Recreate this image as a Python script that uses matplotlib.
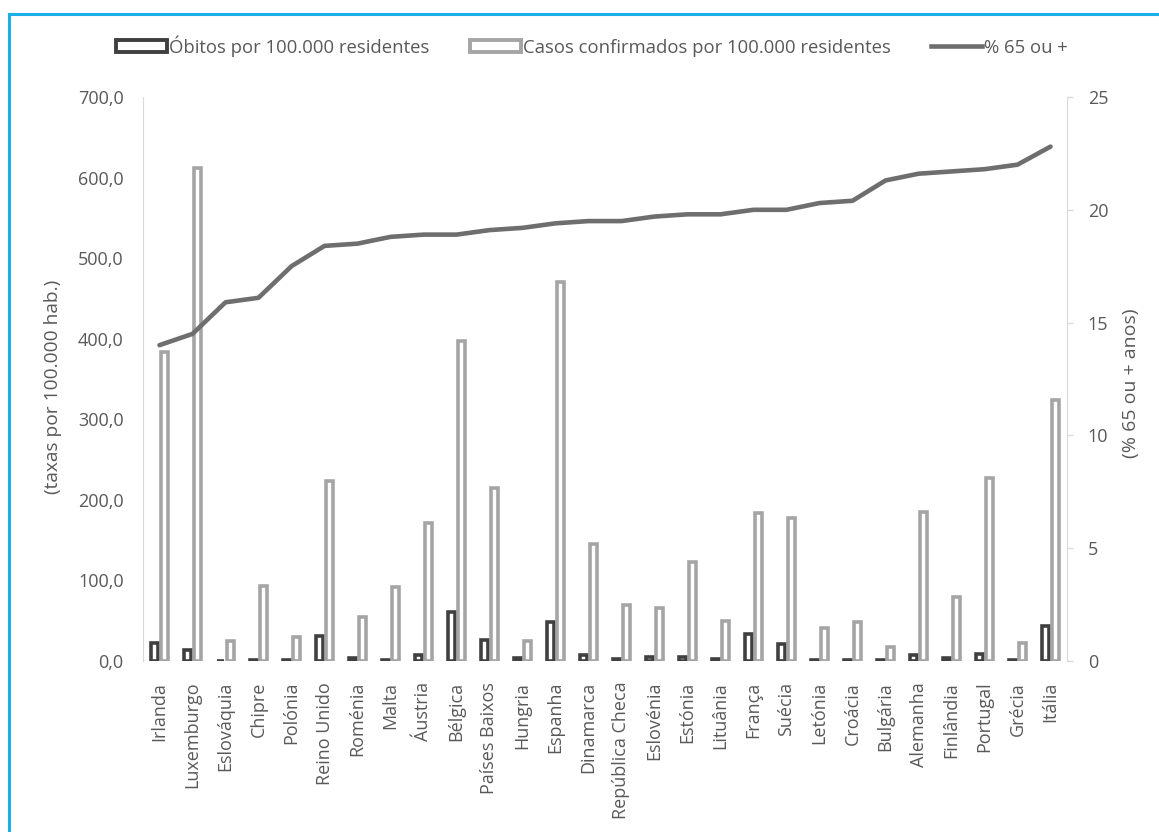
import matplotlib
matplotlib.use("Agg")
import matplotlib.pyplot as plt
from matplotlib.patches import Patch
from matplotlib.lines import Line2D
import numpy as np

plt.rcParams['font.family'] = ['Open Sans', 'DejaVu Sans']

paises = ["Irlanda", "Luxemburgo", "Eslováquia", "Chipre", "Polónia", "Reino Unido",
          "Roménia", "Malta", "Áustria", "Bélgica", "Países Baixos", "Hungria",
          "Espanha", "Dinamarca", "República Checa", "Eslovénia", "Estónia",
          "Lituânia", "França", "Suécia", "Letónia", "Croácia", "Bulgária",
          "Alemanha", "Finlândia", "Portugal", "Grécia", "Itália"]

obitos = [22, 14, 0.5, 1.5, 1, 31, 4, 1, 7, 61, 25.5, 4, 48, 7,
          3, 5, 5, 2, 34, 21, 1, 1, 1, 7, 4, 9, 1, 44]

casos = [383, 612, 25, 93, 30, 223, 55, 92, 171, 397, 215, 25, 471, 145,
         69, 66, 123, 50, 184, 178, 41, 48, 17, 185, 79, 227, 22, 324]

pct65 = [14.0, 14.5, 15.9, 16.1, 17.5, 18.4, 18.5, 18.8, 18.9, 18.9, 19.1, 19.2,
         19.4, 19.5, 19.5, 19.7, 19.8, 19.8, 20.0, 20.0, 20.3, 20.4, 21.3, 21.6,
         21.7, 21.8, 22.0, 22.8]

cor_obitos = "#404040"
cor_casos = "#a5a5a5"
cor_linha = "#6e6e6e"
cor_texto = "#595959"
cor_eixo = "#d9d9d9"

fig = plt.figure(figsize=(11.59, 8.32), dpi=100)
ax = fig.add_axes([143/1159, 1-661/832, (1067-143)/1159, (661-97)/832])
ax2 = ax.twinx()

x = np.arange(len(paises))
ax.bar(x - 0.155, obitos, width=0.2, facecolor="white", edgecolor=cor_obitos, linewidth=2.6, zorder=2)
ax.bar(x + 0.155, casos, width=0.2, facecolor="white", edgecolor=cor_casos, linewidth=2.6, zorder=3)
ax2.plot(x, pct65, color=cor_linha, linewidth=3.3, solid_capstyle="round")

ax.set_xlim(-0.5, len(paises) - 0.5)
ax.set_ylim(0, 700)
ax2.set_ylim(0, 25)
ax.set_yticks(np.arange(0, 701, 100))
ax.set_yticklabels([("%.1f" % v).replace(".", ",") for v in np.arange(0, 701, 100)])
ax2.set_yticks(np.arange(0, 26, 5))

ax.set_xticks(x)
ax.set_xticklabels(paises, rotation=90)
ax.tick_params(axis="x", length=0, pad=15, labelsize=13, labelcolor=cor_texto)
ax.tick_params(axis="y", length=0, pad=14, labelsize=13, labelcolor=cor_texto)
ax2.tick_params(axis="y", length=4, width=1, color=cor_eixo, pad=11, labelsize=13, labelcolor=cor_texto)

for a in (ax, ax2):
    for s in a.spines.values():
        s.set_visible(False)
ax.spines["left"].set_visible(True)
ax.spines["left"].set_color(cor_eixo)
ax2.spines["right"].set_visible(True)
ax2.spines["right"].set_color(cor_eixo)

fig.text(53/1159, 1-387/832, "(taxas por 100.000 hab.)", rotation=90, ha="center", va="center",
         fontsize=13.8, color=cor_texto)
fig.text(1131/1159, 1-383/832, "(% 65 ou + anos)", rotation=90, ha="center", va="center",
         fontsize=14, color=cor_texto)

handles = [Patch(facecolor="white", edgecolor=cor_obitos, linewidth=2.8),
           Patch(facecolor="white", edgecolor=cor_casos, linewidth=2.8),
           Line2D([], [], color=cor_linha, linewidth=3.3)]
labels = ["Óbitos por 100.000 residentes", "Casos confirmados por 100.000 residentes", "% 65 ou +"]
fig.legend(handles, labels, loc="center", bbox_to_anchor=(592/1159, 1-46/832), ncol=3,
           frameon=False, fontsize=13.3, labelcolor=cor_texto, handlelength=2.75,
           handleheight=0.65, handletextpad=0.12, columnspacing=2.2)

# moldura azul
azul = "#1ab0e8"
fig.add_artist(Line2D([9/1159, 1], [1-14/832, 1-14/832], color=azul, linewidth=2.2))
fig.add_artist(Line2D([9/1159, 9/1159], [0, 1-14/832], color=azul, linewidth=2.2))

fig.savefig("out.png", dpi=100)
